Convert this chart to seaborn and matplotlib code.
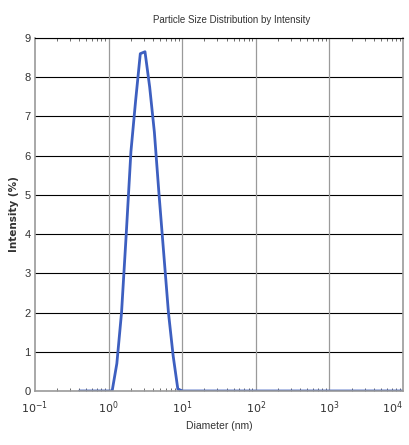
import numpy as np
import pandas as pd
import matplotlib
matplotlib.use('Agg')
import matplotlib.pyplot as plt
import seaborn as sns

# size bins (nm) and intensity (%)
diameter = [0.4, 0.4632, 0.5365, 0.6213, 0.7195, 0.8332, 0.9649, 1.117, 1.294,
            1.499, 1.736, 2.01, 2.328, 2.696, 3.122, 3.615, 4.187, 4.849, 5.615,
            6.503, 7.531, 8.721, 10.1, 11.7, 13.54, 15.69, 18.17, 21.04, 24.36,
            28.21, 32.67, 37.84, 43.82, 50.75, 58.77, 68.06, 78.82, 91.28, 105.7,
            122.4, 141.8, 164.2, 190.1, 220.2, 255.0, 295.3, 342.0, 396.1, 458.7,
            531.2, 615.1, 712.4, 825.0, 955.4, 1106, 1281, 1484, 1718, 1990, 2305,
            2669, 3091, 3580, 4145, 4801, 5560, 6439, 7456, 8635, 10000]
intensity = [0, 0, 0, 0, 0, 0, 0, 0, 0.7, 2.0, 4.0, 6.1, 7.4, 8.6, 8.65, 7.75,
             6.6, 5.0, 3.5, 2.0, 0.9, 0.05] + [0] * 48

df = pd.DataFrame({'Diameter': diameter, 'Intensity': intensity})

sns.set_theme(style="white")
plt.rcParams['font.family'] = ['Liberation Sans Narrow', 'Liberation Sans', 'DejaVu Sans']

fig = plt.figure(figsize=(4.09, 4.45), dpi=100)
ax = fig.add_axes([35 / 409, 1 - 391 / 445, 368 / 409, 353 / 445])

sns.lineplot(data=df, x='Diameter', y='Intensity', ax=ax, color='#3d5fc0', linewidth=2)

ax.set_xscale('log')
ax.set_xlim(0.1, 10000)
ax.set_ylim(0, 9)
ax.set_yticks(range(10))
ax.set_xticks([0.1, 1, 10, 100, 1000, 10000])
ax.set_xticklabels([r'$10^{-1}$', r'$10^{0}$', r'$10^{1}$', r'$10^{2}$', r'$10^{3}$', r'$10^{4}$'])

# grid: horizontal black, vertical gray
for y in range(1, 10):
    ax.axhline(y, color='black', linewidth=0.8, zorder=0)
for x in [1, 10, 100, 1000]:
    ax.axvline(x, color='#9a9a9a', linewidth=0.9, zorder=0)

for side in ['left', 'right', 'bottom']:
    ax.spines[side].set_color('#9a9a9a')
    ax.spines[side].set_linewidth(1.2)
ax.spines['top'].set_color('black')
ax.spines['top'].set_linewidth(0.8)

ax.tick_params(axis='both', which='major', length=0, labelsize=8, colors='#333333', pad=3)
ax.tick_params(axis='x', which='minor', direction='in', length=2.5, width=0.6,
               color='#555555', top=True, bottom=True)
ax.tick_params(axis='x', which='major', pad=6)
ax.get_xticklabels()[-1].set_horizontalalignment('right')

ax.set_xlabel('Diameter (nm)', fontsize=7.5, color='#333333', labelpad=4)
ax.set_ylabel('Intensity (%)', fontsize=7.5, color='#333333', fontweight='bold',
              family=['DejaVu Sans'], labelpad=4)
ax.set_title('Particle Size Distribution by Intensity', fontsize=7, color='#333333',
             pad=11, x=0.535)

fig.savefig('out.png', dpi=100)
